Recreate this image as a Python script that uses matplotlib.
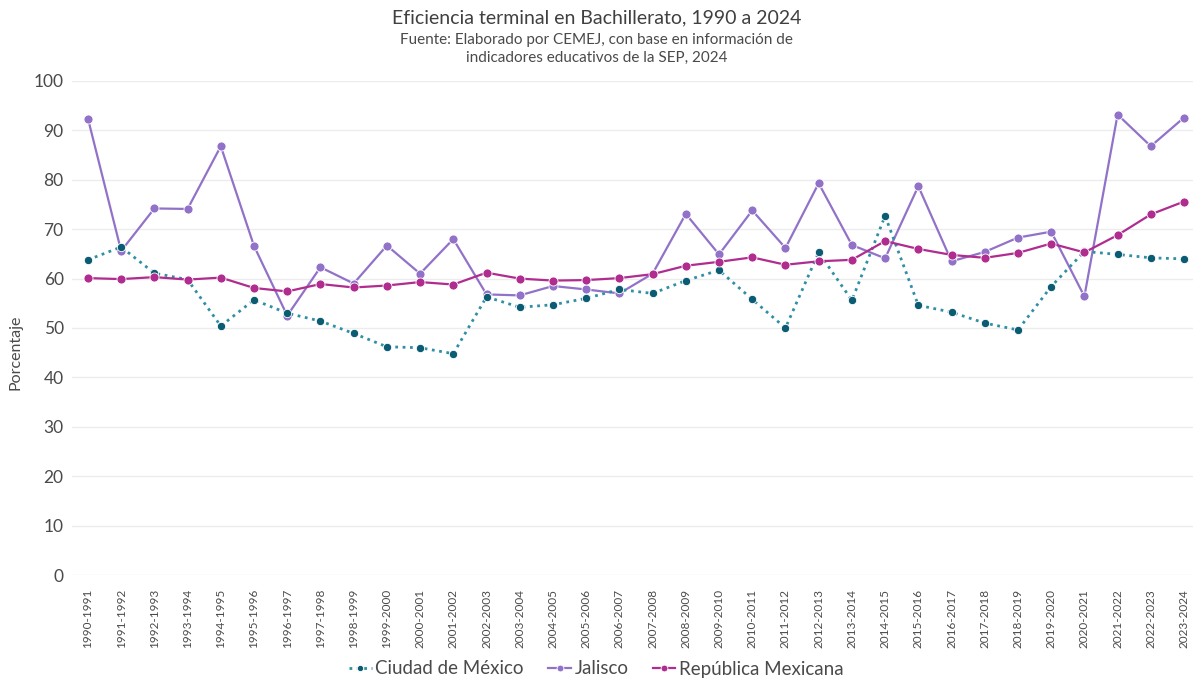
import matplotlib
matplotlib.use("Agg")
import matplotlib.pyplot as plt

periodos = ["1990-1991", "1991-1992", "1992-1993", "1993-1994", "1994-1995", "1995-1996",
            "1996-1997", "1997-1998", "1998-1999", "1999-2000", "2000-2001", "2001-2002",
            "2002-2003", "2003-2004", "2004-2005", "2005-2006", "2006-2007", "2007-2008",
            "2008-2009", "2009-2010", "2010-2011", "2011-2012", "2012-2013", "2013-2014",
            "2014-2015", "2015-2016", "2016-2017", "2017-2018", "2018-2019", "2019-2020",
            "2020-2021", "2021-2022", "2022-2023", "2023-2024"]

cdmx = [63.8, 66.4, 61.1, 59.8, 50.4, 55.7, 53.0, 51.4, 48.9, 46.2, 46.0, 44.8,
        56.3, 54.2, 54.7, 56.0, 57.8, 57.0, 59.6, 61.7, 55.8, 50.0, 65.3, 55.6,
        72.7, 54.6, 53.2, 51.0, 49.6, 58.4, 65.5, 64.9, 64.2, 64.0]

jalisco = [92.4, 65.6, 74.2, 74.1, 86.8, 66.6, 52.5, 62.3, 59.0, 66.7, 61.0, 68.0,
           56.8, 56.6, 58.5, 57.8, 57.0, 61.0, 73.1, 64.9, 73.8, 66.2, 79.3, 66.8,
           64.1, 78.7, 63.5, 65.4, 68.3, 69.5, 56.4, 93.2, 86.8, 92.6]

republica = [60.1, 59.9, 60.3, 59.8, 60.2, 58.1, 57.4, 58.9, 58.2, 58.6, 59.3, 58.8,
             61.2, 60.0, 59.6, 59.7, 60.1, 60.9, 62.6, 63.4, 64.3, 62.8, 63.5, 63.8,
             67.6, 66.0, 64.8, 64.2, 65.2, 67.1, 65.3, 68.8, 73.0, 75.6]

yticks = [0, 10, 20, 30, 40, 50, 60, 70, 80, 90, 100]

plt.rcParams['font.family'] = ['Lato', 'DejaVu Sans']
txt = '#4a4a4a'

fig = plt.figure(figsize=(11.93, 6.79), dpi=100)
ax = fig.add_axes([72/1193, 1 - 575/679, 1 - 72/1193, (575 - 81)/679])

x = list(range(len(periodos)))
ax.plot(x, cdmx, linestyle=':', color='#2f8fa5', linewidth=2.0, marker='o',
        markersize=6, markerfacecolor='#0b5b72', markeredgecolor='white',
        markeredgewidth=0.6, label='Ciudad de México', zorder=3)
ax.plot(x, jalisco, linestyle='-', color='#9272c8', linewidth=1.6, marker='o',
        markersize=6.5, markerfacecolor='#9272c8', markeredgecolor='white',
        markeredgewidth=0.6, label='Jalisco', zorder=2)
ax.plot(x, republica, linestyle='-', color='#b02c8f', linewidth=1.6, marker='o',
        markersize=6.5, markerfacecolor='#b02c8f', markeredgecolor='white',
        markeredgewidth=0.6, label='República Mexicana', zorder=4)

ax.set_xlim(-0.48, 33.27)
ax.set_ylim(0, 100)
ax.set_yticks(yticks)
ax.set_yticklabels([str(v) for v in yticks], fontsize=12.5, color=txt)
ax.set_xticks(x)
ax.set_xticklabels(periodos, rotation=90, fontsize=8.5, color=txt)
ax.tick_params(axis='both', length=0)
ax.tick_params(axis='y', pad=6)
ax.tick_params(axis='x', pad=10)
ax.grid(axis='y', color='#ececec', linewidth=1)
ax.set_axisbelow(True)
for s in ax.spines.values():
    s.set_visible(False)
ax.set_ylabel('Porcentaje', fontsize=11.5, color=txt)
ax.yaxis.set_label_coords(-0.044, 0.45)

fig.text(0.5, 1 - 18/679, 'Eficiencia terminal en Bachillerato, 1990 a 2024',
         ha='center', va='center', fontsize=14, color='#404040')
fig.text(0.5, 1 - 40/679, 'Fuente: Elaborado por CEMEJ, con base en información de',
         ha='center', va='center', fontsize=11, color=txt)
fig.text(0.5, 1 - 58/679, 'indicadores educativos de la SEP, 2024',
         ha='center', va='center', fontsize=11, color=txt)

leg = fig.legend(loc='center', bbox_to_anchor=(0.5, 1 - 669/679), ncol=3,
                 frameon=False, fontsize=13.5, handlelength=1.2, handletextpad=0.2,
                 columnspacing=1.3, markerscale=0.75)
for t in leg.get_texts():
    t.set_color(txt)

fig.savefig('out.png', dpi=100, facecolor='white')
